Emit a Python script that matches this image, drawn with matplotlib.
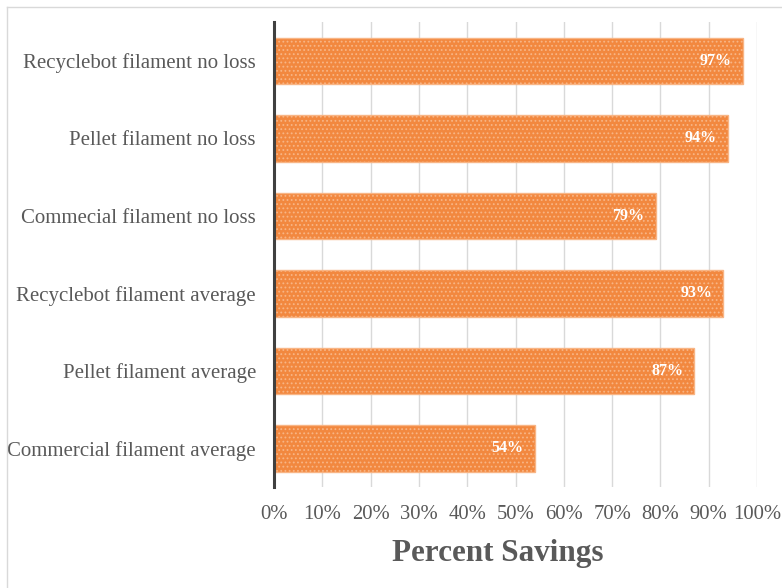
import numpy as np
import matplotlib.pyplot as plt
from matplotlib.lines import Line2D
from matplotlib.ticker import FuncFormatter

categories = ["Commercial filament average", "Pellet filament average",
              "Recyclebot filament average", "Commecial filament no loss",
              "Pellet filament no loss", "Recyclebot filament no loss"]
savings = [54, 87, 93, 79, 94, 97]
xticks = list(range(0, 101, 10))

plt.rcParams['font.family'] = ['Liberation Serif', 'DejaVu Serif']
plt.rcParams['hatch.color'] = '#F5975A'
plt.rcParams['hatch.linewidth'] = 0.8

W, H = 782, 588
fig = plt.figure(figsize=(W / 100, H / 100), dpi=100)
ax = fig.add_axes([274 / W, 1 - 487 / H, (757 - 274) / W, (487 - 22) / H])

y = np.arange(len(categories))
bars = ax.barh(y, savings, height=0.6, color='#F2883F', edgecolor='#F8B585',
               linewidth=1, hatch='....', zorder=3)

for yi, v in zip(y, savings):
    ax.text(v - 2.3, yi, f"{v}%", ha='right', va='center', color='white',
            fontsize=11.5, fontweight='bold', zorder=4)

ax.set_xlim(0, 100)
ax.set_ylim(-0.5, 5.5)
ax.set_yticks(y)
ax.set_yticklabels(categories, fontsize=15, color='#595959')
ax.set_xticks(xticks)
ax.xaxis.set_major_formatter(FuncFormatter(lambda v, p: f"{int(v)}%"))
ax.tick_params(axis='x', labelsize=14.9, labelcolor='#595959', length=0, pad=13)
ax.tick_params(axis='y', length=0, pad=13)
ax.grid(axis='x', color='#D9D9D9', linewidth=1, zorder=0)
for s in ['top', 'right', 'bottom']:
    ax.spines[s].set_visible(False)
ax.spines['left'].set_color('#404040')
ax.spines['left'].set_linewidth(2.2)
ax.spines['left'].set_zorder(5)

ax.set_xlabel("Percent Savings", fontsize=22.4, fontweight='bold', color='#595959',
              labelpad=11)
ax.xaxis.label.set_x(0.464)

# outer frame (left and top edges)
fig.add_artist(Line2D([7 / W, 7 / W], [0, 1 - 7 / H], transform=fig.transFigure,
                      color='#D9D9D9', linewidth=1))
fig.add_artist(Line2D([7 / W, 1], [1 - 7 / H, 1 - 7 / H], transform=fig.transFigure,
                      color='#D9D9D9', linewidth=1))

fig.savefig("out.png", dpi=100)
